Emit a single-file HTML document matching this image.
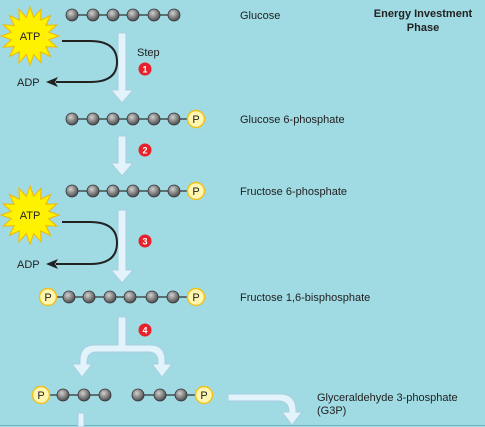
<!DOCTYPE html>
<html><head><meta charset="utf-8"><style>
html,body{margin:0;padding:0;background:#a0dae3;}
svg{display:block;font-family:"Liberation Sans",sans-serif;}
text{fill:#222;}
</style></head><body>
<svg id="s" width="485" height="427" viewBox="0 0 485 427">
<defs>
<radialGradient id="ball" cx="0.4" cy="0.35" r="0.7"><stop offset="0" stop-color="#d0d0d0"/><stop offset="0.6" stop-color="#7a7a7a"/><stop offset="1" stop-color="#444"/></radialGradient>
</defs>
<rect x="0" y="0" width="485" height="427" fill="#a0dae3"/>
<line x1="0" y1="425.5" x2="485" y2="425.5" stroke="#6fb4c0" stroke-width="1"/>
<text x="423" y="17" font-size="11" font-weight="bold" text-anchor="middle">Energy Investment</text>
<text x="423" y="31" font-size="11" font-weight="bold" text-anchor="middle">Phase</text>
<text x="240" y="19" font-size="11">Glucose</text>
<text x="240" y="123" font-size="11">Glucose 6-phosphate</text>
<text x="240" y="195" font-size="11">Fructose 6-phosphate</text>
<text x="240" y="301" font-size="11">Fructose 1,6-bisphosphate</text>
<text x="317" y="401" font-size="11">Glyceraldehyde 3-phosphate</text>
<text x="317" y="414" font-size="11">(G3P)</text>
<text x="137" y="56" font-size="11">Step</text>
<g id="arrows" fill="#e2f3fb" stroke="#a8cfe0" stroke-width="1">
<path d="M118,33 H126 V90 H133 L122,103 L111,90 H118 Z"/>
<path d="M118,136 H126 V163 H133 L122,176 L111,163 H118 Z"/>
<path d="M118,210 H126 V270 H133 L122,283 L111,270 H118 Z"/>
<path d="M118,317 H126 V345 H150 Q165,345 165,360 V364 H172 L162,377 L152,364 H158 V362 Q158,352 148,352 H97 Q87,352 87,362 V364 H92 L82,377 L72,364 H80 V360 Q80,345 95,345 H118 Z"/>
<path d="M228,394 H280 Q296,394 296,410 V412 H302 L292,425 L282,412 H289 V412 Q289,401 278,401 H228 Z"/>
<path d="M78,413 H84 V427 H78 Z"/>
</g>
<path d="M62,41 H90 Q117,41 117,62 Q117,82 90,82 H56" fill="none" stroke="#222" stroke-width="2"/>
<path d="M46,82 L58,77 L55,82 L58,87 Z" fill="#222"/>
<path d="M62,222 H90 Q117,222 117,243 Q117,264 90,264 H56" fill="none" stroke="#222" stroke-width="2"/>
<path d="M46,264 L58,259 L55,264 L58,269 Z" fill="#222"/>
<text x="17" y="86" font-size="11">ADP</text>
<text x="17" y="268" font-size="11">ADP</text>
<g id="dyn"></g>
</svg>
<script>
var ns="http://www.w3.org/2000/svg";
var g=document.getElementById('dyn');
function mk(t,a){var e=document.createElementNS(ns,t);for(var k in a)e.setAttribute(k,a[k]);g.appendChild(e);return e;}
[[30,36],[30,215]].forEach(function(c,i){
 var pts=[];for(var j=0;j<32;j++){var r=j%2?19:29;var a=j*Math.PI/16;pts.push((c[0]+r*Math.cos(a)).toFixed(1)+','+(c[1]+r*Math.sin(a)).toFixed(1));}
 var p=mk('polygon',{points:pts.join(' '),fill:'#fff200',stroke:'#f0b800','stroke-width':1});
 
 
 var t=mk('text',{x:c[0],y:c[1]+4,'font-size':11,'text-anchor':'middle'});t.textContent='ATP';
 
 
});
[[145,69,'1'],[145,150,'2'],[145,241,'3'],[145,330,'4']].forEach(function(s){
 var c=mk('circle',{cx:s[0],cy:s[1],r:6.5,fill:'#e8202a'});
 
 
 var t=mk('text',{x:s[0],y:s[1]+3.5,'font-size':9,'font-weight':'bold','text-anchor':'middle',style:'fill:#fff'});t.textContent=s[2];
 
 
});
var rows=[
 [15,[['b',72],['b',93],['b',113],['b',133],['b',154],['b',174]]],
 [119,[['b',72],['b',93],['b',113],['b',133],['b',154],['b',174],['p',196]]],
 [191,[['b',72],['b',93],['b',113],['b',133],['b',154],['b',174],['p',196]]],
 [297,[['p',48],['b',69],['b',89],['b',110],['b',130],['b',152],['b',173],['p',196]]],
 [395,[['p',41],['b',63],['b',84],['b',105]]],
 [395,[['b',138],['b',160],['b',181],['p',204]]]
];
rows.forEach(function(r){
 var y=r[0],it=r[1];
 var l=mk('line',{x1:it[0][1],y1:y,x2:it[it.length-1][1],y2:y,stroke:'#333','stroke-width':1.3});
 
 
 it.forEach(function(b){
  if(b[0]=='b'){var c=mk('circle',{cx:b[1],cy:y,r:6,fill:'url(#ball)',stroke:'#333','stroke-width':0.8});
   
   }
  else{var c=mk('circle',{cx:b[1],cy:y,r:8.5,fill:'#fff6b0',stroke:'#f0c020','stroke-width':1.5});
   
   
   var t=mk('text',{x:b[1],y:y+4,'font-size':11,'text-anchor':'middle'});t.textContent='P';
   
   }
 });
});
</script>
</body></html>
